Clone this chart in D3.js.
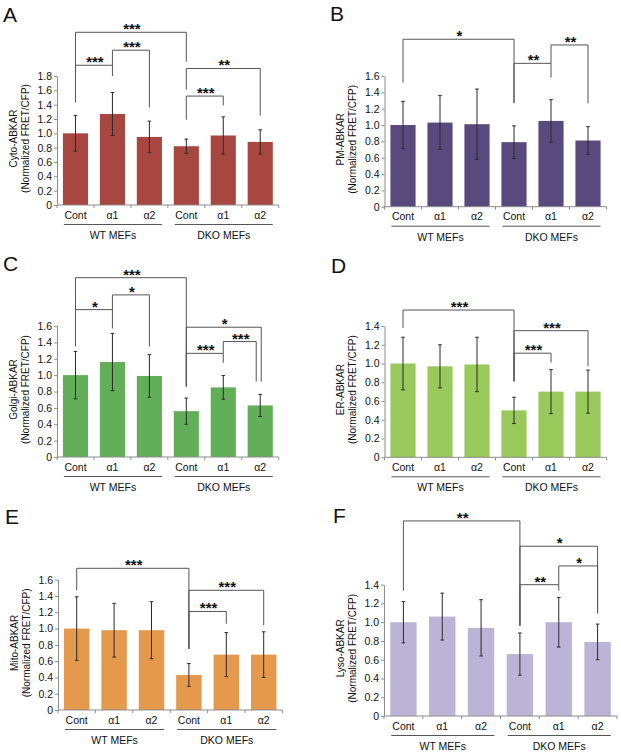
<!DOCTYPE html>
<html><head><meta charset="utf-8">
<script src="https://cdn.jsdelivr.net/npm/d3@7"></script>
<style>
body{margin:0;background:#fff}
svg{display:block}
text{font-family:"Liberation Sans",Arial,Helvetica,sans-serif}
</style>
</head><body>
<svg id="chart" width="621" height="753"></svg>
<script>
// ---------- data ----------
const categories = ["Cont", "α1", "α2", "Cont", "α1", "α2"];
const groups = ["WT MEFs", "DKO MEFs"];
const panelLetters = ["A", "B", "C", "D", "E", "F"];
const yTitles = ["Cyto-ABKAR", "PM-ABKAR", "Golgi-ABKAR", "ER-ABKAR", "Mito-ABKAR", "Lyso-ABKAR"];
const yTitleSub = "(Normalized FRET/CFP)";
const yMaxValues = [1.8, 1.6, 1.6, 1.4, 1.6, 1.4];

const cytoMean  = [1.00, 1.27, 0.95, 0.82, 0.97, 0.88];
const cytoSD    = [0.25, 0.30, 0.22, 0.10, 0.26, 0.17];
const pmMean    = [1.00, 1.03, 1.01, 0.79, 1.05, 0.81];
const pmSD      = [0.29, 0.33, 0.43, 0.20, 0.26, 0.17];
const golgiMean = [1.00, 1.16, 0.99, 0.56, 0.85, 0.63];
const golgiSD   = [0.29, 0.35, 0.26, 0.16, 0.145, 0.135];
const erMean    = [1.00, 0.97, 0.99, 0.50, 0.70, 0.70];
const erSD      = [0.28, 0.23, 0.29, 0.14, 0.235, 0.23];
const mitoMean  = [1.00, 0.98, 0.98, 0.43, 0.68, 0.68];
const mitoSD    = [0.39, 0.33, 0.35, 0.14, 0.27, 0.28];
const lysoMean  = [1.00, 1.06, 0.94, 0.66, 1.00, 0.79];
const lysoSD    = [0.22, 0.25, 0.30, 0.225, 0.265, 0.19];

// significance brackets: [from, to, label, bracket level, left leg end, right leg end, right nudge]
const cytoSig = [
  [0, 3, "***", 2.41, 1.95, 2.00, 0],
  [0, 1, "***", 1.95, 1.43, 1.80, 0],
  [1, 2, "***", 2.16, 1.95, 1.36, 0],
  [3, 5, "**", 1.905, 1.61, 1.245, 0],
  [3, 4, "***", 1.52, 1.19, 1.39, 0]
];
const pmSig = [
  [0, 3, "*", 2.05, 1.52, 1.27, 0],
  [3, 4, "**", 1.755, 1.27, 1.58, 0],
  [4, 5, "**", 1.98, 1.755, 1.266, 0]
];
const golgiSig = [
  [0, 3, "***", 2.19, 1.80, 0.86, 0],
  [0, 1, "*", 1.80, 1.35, 1.57, 0],
  [1, 2, "*", 1.98, 1.80, 1.35, 0],
  [3, 5, "*", 1.585, 0.86, 0.92, 1],
  [3, 4, "***", 1.266, 0.86, 1.15, 0],
  [4, 5, "***", 1.41, 1.266, 0.92, -4]
];
const erSig = [
  [0, 3, "***", 1.57, 1.38, 0.81, 0],
  [3, 5, "***", 1.35, 0.81, 0.97, 0],
  [3, 4, "***", 1.11, 0.81, 1.01, 0]
];
const mitoSig = [
  [0, 3, "***", 1.74, 1.47, 0.75, 0],
  [3, 5, "***", 1.47, 0.75, 1.04, 0],
  [3, 4, "***", 1.21, 0.75, 1.06, 0]
];
const lysoSig = [
  [0, 3, "**", 2.08, 1.336, 0.963, 0],
  [3, 5, "*", 1.81, 0.963, 1.095, 0],
  [4, 5, "*", 1.60, 1.40, 1.095, 0],
  [3, 4, "**", 1.40, 0.963, 1.336, 0]
];

const barColors = ["#A8473F", "#594A7E", "#63AE59", "#98C95A", "#E4994C", "#BCB4D6"];

// ---------- layout ----------
const panels = [
  {mean: cytoMean,  sd: cytoSD,  sig: cytoSig,  x: 57,    w: 221.7, top: 76,    bottom: 205,   lx: 3,   ly: 22},
  {mean: pmMean,    sd: pmSD,    sig: pmSig,    x: 384.5, w: 222,   top: 76,    bottom: 206.7, lx: 330, ly: 21},
  {mean: golgiMean, sd: golgiSD, sig: golgiSig, x: 57,    w: 221.7, top: 326,   bottom: 457,   lx: 3,   ly: 271},
  {mean: erMean,    sd: erSD,    sig: erSig,    x: 384.5, w: 222,   top: 326,   bottom: 457.3, lx: 331, ly: 273},
  {mean: mitoMean,  sd: mitoSD,  sig: mitoSig,  x: 58,    w: 224.4, top: 579.7, bottom: 710,   lx: 5,   ly: 524},
  {mean: lysoMean,  sd: lysoSD,  sig: lysoSig,  x: 384,   w: 233,   top: 584.7, bottom: 716,   lx: 333, ly: 523}
];

const svg = d3.select("#chart");
const axisColor = "#8c8c8c";

panels.forEach((P, p) => {
  const g = svg.append("g");
  const idx = d3.range(categories.length);
  const x = d3.scaleBand().domain(idx).range([P.x, P.x + P.w])
    .paddingInner(0.32).paddingOuter(0.16);
  const y = d3.scaleLinear().domain([0, yMaxValues[p]]).range([P.bottom, P.top]);
  const bw = x.bandwidth();
  const cx = i => x(i) + bw / 2;

  // panel letter
  g.append("text").attr("x", P.lx).attr("y", P.ly)
    .attr("font-size", 21).attr("fill", "#111").text(panelLetters[p]);

  // bars
  g.selectAll("rect.bar").data(P.mean).join("rect")
    .attr("class", "bar")
    .attr("x", (d, i) => x(i)).attr("width", bw)
    .attr("y", d => y(d)).attr("height", d => y(0) - y(d))
    .attr("fill", barColors[p]);

  // error bars
  const eg = g.append("g").attr("stroke", "#2a2a2a").attr("stroke-width", 1);
  P.mean.forEach((m, i) => {
    const lo = y(m - P.sd[i]), hi = y(m + P.sd[i]);
    eg.append("line").attr("x1", cx(i)).attr("x2", cx(i)).attr("y1", lo).attr("y2", hi);
    eg.append("line").attr("x1", cx(i) - 1.8).attr("x2", cx(i) + 1.8).attr("y1", lo).attr("y2", lo);
    eg.append("line").attr("x1", cx(i) - 1.8).attr("x2", cx(i) + 1.8).attr("y1", hi).attr("y2", hi);
  });

  // y axis
  const ticks = d3.range(0, yMaxValues[p] + 1e-6, 0.2).map(v => Math.round(v * 10) / 10);
  const yAxis = d3.axisLeft(y).tickValues(ticks)
    .tickFormat(d => d === 0 ? "0" : d3.format(".1f")(d))
    .tickSizeInner(3).tickSizeOuter(0).tickPadding(2);
  const ya = g.append("g").attr("transform", `translate(${P.x},0)`).call(yAxis);
  ya.select(".domain").attr("stroke", axisColor);
  ya.selectAll(".tick line").attr("stroke", axisColor);
  ya.selectAll(".tick text").attr("font-size", 10.5).attr("fill", "#111")
    .attr("font-family", "Liberation Sans, Arial, sans-serif");

  // x axis line and between-category ticks
  g.append("line").attr("x1", P.x).attr("x2", P.x + P.w)
    .attr("y1", y(0)).attr("y2", y(0)).attr("stroke", axisColor);
  const step = x.step();
  d3.range(categories.length + 1).forEach(k => {
    const bx = P.x + step * k;
    g.append("line").attr("x1", bx).attr("x2", bx)
      .attr("y1", y(0)).attr("y2", y(0) + 3).attr("stroke", axisColor);
  });

  // category labels
  g.selectAll("text.cat").data(categories).join("text")
    .attr("class", "cat")
    .attr("x", (d, i) => cx(i)).attr("y", y(0) + 13.7)
    .attr("text-anchor", "middle").attr("font-size", 10.5).attr("fill", "#111")
    .text(d => d);

  // group underline + labels
  [[0, 2], [3, 5]].forEach(([a, b], gi) => {
    const x1 = x(a) + 1, x2 = x(b) + bw;
    g.append("line").attr("x1", x1).attr("x2", x2)
      .attr("y1", y(0) + 19.5).attr("y2", y(0) + 19.5)
      .attr("stroke", "#555").attr("stroke-width", 1);
    g.append("text").attr("x", (x1 + x2) / 2).attr("y", y(0) + 34)
      .attr("text-anchor", "middle").attr("font-size", 10.5).attr("fill", "#111")
      .text(groups[gi]);
  });

  // y title (two lines)
  const cy = (P.top + P.bottom) / 2 - 2;
  g.append("text")
    .attr("transform", `translate(${P.x - 40.4},${cy}) rotate(-90)`)
    .attr("text-anchor", "middle").attr("font-size", 10).attr("fill", "#111")
    .text(yTitles[p]);
  g.append("text")
    .attr("transform", `translate(${P.x - 28.4},${cy}) rotate(-90)`)
    .attr("text-anchor", "middle").attr("font-size", 10).attr("fill", "#111")
    .text(yTitleSub);

  // significance brackets
  const sg = g.append("g");
  P.sig.forEach(([a, b, lab, lvl, le, re, nud]) => {
    const xa = cx(a), xb = cx(b) + nud;
    sg.append("path")
      .attr("d", `M${xa},${y(le)}V${y(lvl)}H${xb}V${y(re)}`)
      .attr("fill", "none").attr("stroke", "#555").attr("stroke-width", 1);
    sg.append("text").attr("x", (xa + xb) / 2 + 1).attr("y", y(lvl) + 2)
      .attr("text-anchor", "middle").attr("font-size", 15).attr("font-weight", "bold")
      .attr("font-family", "DejaVu Sans, sans-serif").attr("fill", "#111")
      .text(lab);
  });
});
</script>
</body></html>
